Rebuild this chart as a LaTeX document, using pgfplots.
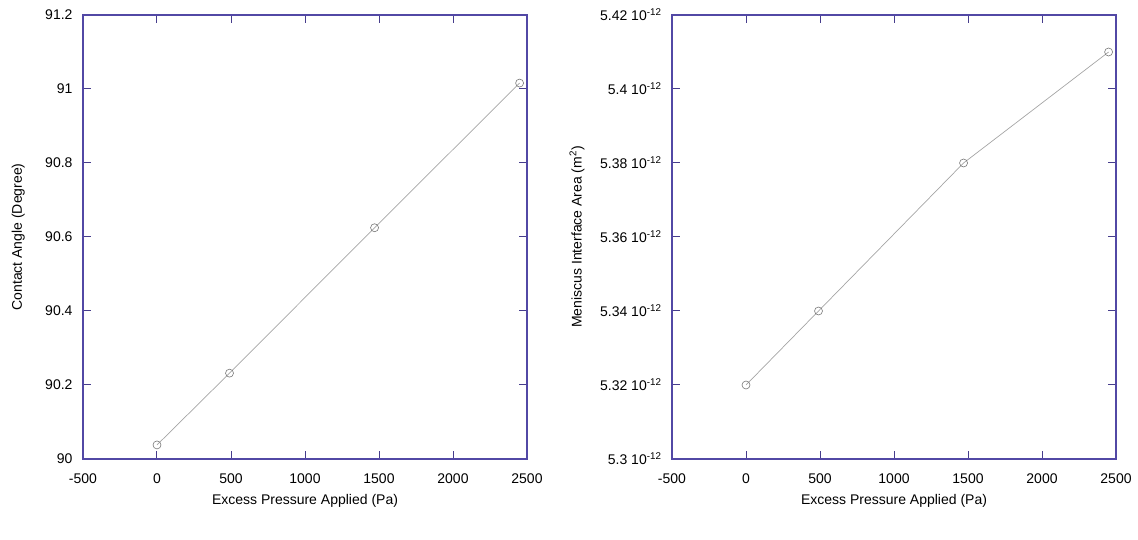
\documentclass[border=0pt]{standalone}
\usepackage{pgfplots}
\pgfplotsset{compat=1.18}
\usepackage{fontspec}
\setmainfont{Liberation Sans}
\definecolor{axblue}{RGB}{82,72,165}
\definecolor{lgray}{RGB}{165,165,165}
\definecolor{mgray}{RGB}{120,120,120}
\newcommand{\ee}{ 10\textsuperscript{-12}}
\begin{document}
\begin{tikzpicture}
\useasboundingbox (-83pt,-81pt) rectangle (1055pt,459pt);
\pgfplotsset{
  every axis/.append style={
    scale only axis, width=444pt, height=444pt,
    axis line style={axblue, line width=1.3pt},
    every tick/.style={axblue!85!black, line width=1pt},
    major tick length=8pt,
    tick align=inside,
    font=\fontsize{14}{16}\selectfont,
    xmin=-500, xmax=2500,
    xtick={-500,0,500,1000,1500,2000,2500},
    xticklabels={-500,0,500,1000,1500,2000,2500},
    xticklabel style={yshift=-11pt},
    yticklabel style={xshift=-7pt},
    xlabel={Excess Pressure Applied (Pa)},
    xlabel style={at={(axis description cs:0.5,-0.095)}, anchor=center},
  },
}
\begin{axis}[at={(0pt,0pt)}, anchor=south west,
  ymin=90, ymax=91.2,
  ytick={90,90.2,90.4,90.6,90.8,91,91.2},
  yticklabels={90,90.2,90.4,90.6,90.8,91,91.2},
  ylabel={Contact Angle (Degree)},
  ylabel style={at={(axis description cs:-0.146,0.5)}, anchor=center},
]
\addplot[lgray, line width=0.7pt, mark=o, mark size=4pt, mark options={mgray, line width=0.6pt}]
  coordinates {(0,90.038) (490,90.232) (1470,90.625) (2450,91.016)};
\end{axis}
\begin{axis}[at={(589pt,0pt)}, anchor=south west,
  ymin=5.30, ymax=5.42,
  ytick={5.30,5.32,5.34,5.36,5.38,5.40,5.42},
  yticklabels={5.3\ee,5.32\ee,5.34\ee,5.36\ee,5.38\ee,5.4\ee,5.42\ee},
  ylabel={Meniscus Interface Area (m\textsuperscript{2})},
  ylabel style={at={(axis description cs:-0.214,0.5)}, anchor=center},
]
\addplot[lgray, line width=0.7pt, mark=o, mark size=4pt, mark options={mgray, line width=0.6pt}]
  coordinates {(0,5.320) (490,5.340) (1470,5.380) (2450,5.410)};
\end{axis}
\end{tikzpicture}
\end{document}
